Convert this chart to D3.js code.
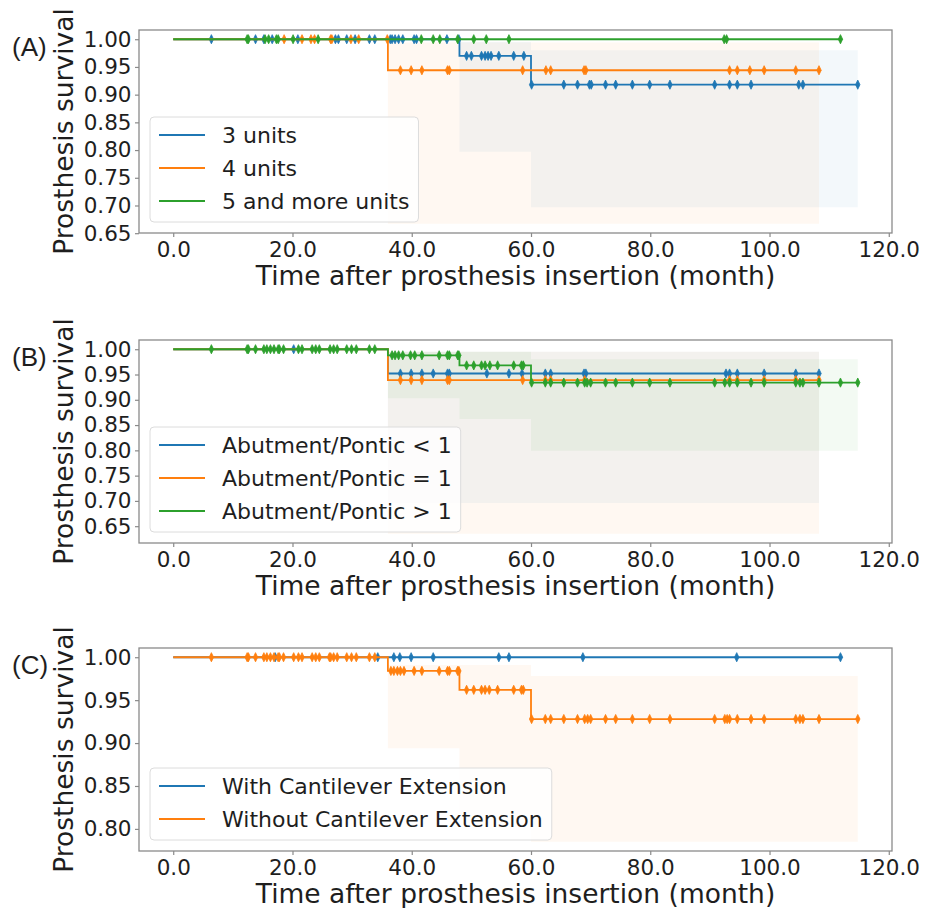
<!DOCTYPE html>
<html>
<head>
<meta charset="utf-8">
<script src="https://cdn.jsdelivr.net/npm/d3@7"></script>
<style>
	body { margin: 0; background: #fff; }
	text { font-family: "DejaVu Sans", sans-serif; fill: #1e1e1e; }
</style>
</head>
<body>
<svg id="chart" width="934" height="908"></svg>
<script>

// ---------------------------------------------------------------------------
// Data (time in months, survival as fraction)
// ---------------------------------------------------------------------------

var xTickValues = [0, 20, 40, 60, 80, 100, 120];
var yTicksA = [0.65, 0.70, 0.75, 0.80, 0.85, 0.90, 0.95, 1.00];
var yTicksB = [0.65, 0.70, 0.75, 0.80, 0.85, 0.90, 0.95, 1.00];
var yTicksC = [0.80, 0.85, 0.90, 0.95, 1.00];

var panelLabels = ["(A)", "(B)", "(C)"];
var namesA = ["3 units", "4 units", "5 and more units"];
var namesB = ["Abutment/Pontic < 1", "Abutment/Pontic = 1", "Abutment/Pontic > 1"];
var namesC = ["With Cantilever Extension", "Without Cantilever Extension"];

// (A) 3 units
var stepTimesA1 = [0, 48, 60];
var stepSurvA1 = [1.00, 0.970, 0.918];
var endA1 = 114.8;
var censorA1 = [6.4, 13.8, 15.2, 16.6, 20.9, 27.2, 27.7, 29.1, 30.5, 32.9, 33.8, 36.4, 36.7,
	37.2, 37.8, 38.5, 40.4, 40.8, 45.9, 47.9, 49.2, 50.0, 51.7, 52.3, 52.8, 53.3, 54.6, 57.1,
	58.8, 60.1, 65.5, 67.8, 69.8, 70.1, 72.5, 74.2, 77.0, 79.9, 83.3, 90.8, 93.3, 94.6, 96.9,
	104.9, 105.6, 114.8];
var bandTimesA1 = [48, 60, 114.8];
var bandLoA1 = [0.797, 0.697, 0.697];
var bandHiA1 = [0.995, 0.980, 0.980];

// (A) 4 units
var stepTimesA2 = [0, 36];
var stepSurvA2 = [1.00, 0.944];
var endA2 = 108.3;
var censorA2 = [18.6, 21.6, 23.1, 23.7, 26.4, 26.6, 29.8, 31.1, 35.9, 38.1, 39.9, 41.7, 46.0,
	46.3, 58.6, 62.5, 63.3, 68.9, 69.2, 93.3, 94.6, 96.7, 99.1, 104.4, 108.3];
var bandTimesA2 = [36, 108.3];
var bandLoA2 = [0.667, 0.667];
var bandHiA2 = [0.994, 0.994];

// (A) 5 and more units
var stepTimesA3 = [0];
var stepSurvA3 = [1.00];
var endA3 = 111.9;
var censorA3 = [12.4, 12.6, 15.4, 16.0, 17.3, 17.6, 20.1, 24.3, 41.6, 43.6, 44.7, 47.7, 50.4,
	52.5, 56.3, 92.4, 92.8, 111.9];
var bandTimesA3 = [];
var bandLoA3 = [];
var bandHiA3 = [];

// (B) Abutment/Pontic < 1
var stepTimesB1 = [0, 36];
var stepSurvB1 = [1.00, 0.952];
var endB1 = 108.3;
var censorB1 = [20.2, 38.1, 39.9, 41.7, 43.6, 46.0, 46.3, 52.6, 56.3, 58.5, 62.4, 63.3, 68.9,
	69.2, 92.7, 93.3, 94.6, 99.1, 104.4, 108.3];
var bandTimesB1 = [36, 108.3];
var bandLoB1 = [0.696, 0.696];
var bandHiB1 = [0.995, 0.995];

// (B) Abutment/Pontic = 1
var stepTimesB2 = [0, 36];
var stepSurvB2 = [1.00, 0.939];
var endB2 = 108.3;
var censorB2 = [38.1, 39.9, 41.7, 46.0, 46.3, 58.6, 62.4, 63.3, 69.0, 93.3, 94.6, 99.1, 104.4, 108.3];
var bandTimesB2 = [36, 108.3];
var bandLoB2 = [0.635, 0.635];
var bandHiB2 = [0.995, 0.995];

// (B) Abutment/Pontic > 1
var stepTimesB3 = [0, 36, 48, 60];
var stepSurvB3 = [1.00, 0.988, 0.968, 0.934];
var endB3 = 114.8;
var censorB3 = [6.4, 12.4, 12.6, 13.8, 15.2, 15.7, 16.3, 16.9, 17.6, 17.8, 18.5, 21.0, 21.6,
	23.3, 23.9, 24.5, 26.3, 26.9, 27.5, 29.1, 29.9, 30.7, 32.9, 33.8, 36.7, 37.2, 37.8, 38.5,
	39.8, 40.5, 41.7, 44.6, 46.0, 46.3, 47.7, 47.9, 49.2, 50.4, 51.7, 52.3, 53.1, 54.4, 57.1,
	58.4, 58.7, 60.1, 62.4, 63.3, 65.5, 67.8, 69.0, 69.4, 70.0, 72.5, 74.2, 77.0, 79.9, 83.3,
	90.8, 92.5, 93.3, 94.6, 96.9, 99.1, 104.4, 105.1, 105.6, 108.3, 111.9, 114.8];
var bandTimesB3 = [36, 48, 60, 114.8];
var bandLoB3 = [0.903, 0.862, 0.799, 0.799];
var bandHiB3 = [0.995, 0.995, 0.980, 0.980];

// (C) With Cantilever Extension
var stepTimesC1 = [0];
var stepSurvC1 = [1.00];
var endC1 = 111.9;
var censorC1 = [17.1, 34.3, 37.0, 38.0, 39.9, 43.6, 54.6, 56.3, 68.7, 94.5, 111.9];
var bandTimesC1 = [];
var bandLoC1 = [];
var bandHiC1 = [];

// (C) Without Cantilever Extension
var stepTimesC2 = [0, 36, 48, 60];
var stepSurvC2 = [1.00, 0.984, 0.962, 0.928];
var endC2 = 114.8;
var censorC2 = [6.4, 12.4, 12.6, 13.8, 15.2, 15.7, 16.3, 16.9, 17.6, 17.8, 18.5, 20.2, 21.0,
	21.6, 23.3, 23.9, 24.5, 26.2, 26.4, 26.9, 27.5, 29.1, 29.9, 30.7, 32.9, 33.8, 36.5, 37.0,
	37.6, 38.1, 38.7, 40.4, 41.7, 44.6, 46.0, 46.3, 47.7, 47.9, 49.2, 50.4, 51.7, 52.3, 53.0,
	54.4, 57.1, 58.4, 58.7, 60.1, 62.4, 63.3, 65.5, 67.8, 69.0, 69.5, 70.0, 72.5, 74.2, 77.0,
	79.9, 83.3, 90.8, 92.5, 92.9, 93.3, 94.6, 96.9, 99.1, 104.4, 105.1, 105.6, 108.3, 114.8];
var bandTimesC2 = [36, 48, 60, 114.8];
var bandLoC2 = [0.894, 0.81, 0.785, 0.785];
var bandHiC2 = [0.991, 0.991, 0.978, 0.978];

// matplotlib tab10
var colors = ["#1f77b4", "#ff7f0e", "#2ca02c"];

// ---------------------------------------------------------------------------
// Build the panels from the arrays above
// ---------------------------------------------------------------------------
function makeSeries(name, color, stepTimes, stepSurv, end, censor, bandTimes, bandLo, bandHi)
{
	return {name: name, color: color, stepTimes: stepTimes, stepSurv: stepSurv, end: end,
		censor: censor, bandTimes: bandTimes, bandLo: bandLo, bandHi: bandHi};
}

var panels = [
	{
		label: panelLabels[0], top: 30, yTicks: yTicksA,
		series: [
			makeSeries(namesA[0], colors[0], stepTimesA1, stepSurvA1, endA1, censorA1, bandTimesA1, bandLoA1, bandHiA1),
			makeSeries(namesA[1], colors[1], stepTimesA2, stepSurvA2, endA2, censorA2, bandTimesA2, bandLoA2, bandHiA2),
			makeSeries(namesA[2], colors[2], stepTimesA3, stepSurvA3, endA3, censorA3, bandTimesA3, bandLoA3, bandHiA3)
		]
	},
	{
		label: panelLabels[1], top: 340, yTicks: yTicksB,
		series: [
			makeSeries(namesB[0], colors[0], stepTimesB1, stepSurvB1, endB1, censorB1, bandTimesB1, bandLoB1, bandHiB1),
			makeSeries(namesB[1], colors[1], stepTimesB2, stepSurvB2, endB2, censorB2, bandTimesB2, bandLoB2, bandHiB2),
			makeSeries(namesB[2], colors[2], stepTimesB3, stepSurvB3, endB3, censorB3, bandTimesB3, bandLoB3, bandHiB3)
		]
	},
	{
		label: panelLabels[2], top: 648, yTicks: yTicksC,
		series: [
			makeSeries(namesC[0], colors[0], stepTimesC1, stepSurvC1, endC1, censorC1, bandTimesC1, bandLoC1, bandHiC1),
			makeSeries(namesC[1], colors[1], stepTimesC2, stepSurvC2, endC2, censorC2, bandTimesC2, bandLoC2, bandHiC2)
		]
	}
];

var plotLeft = 139, plotRight = 892, plotHeight = 203;
var spineColor = "#8a8a8a";
var tickFont = 21.5, labelFont = 26.5, legendFont = 22;

var svg = d3.select("#chart");

/* **************************************************************************
 * survivalAt
 * Value of the step function (post) at time t.
 ****************************************************************************/
function survivalAt(s, t)
{
	var i = d3.bisectRight(s.stepTimes, t) - 1;
	return s.stepSurv[Math.max(i, 0)];
}

/* **************************************************************************
 * drawPanel
 ****************************************************************************/
function drawPanel(p)
{
	var bottom = p.top + plotHeight;

	// x domain: data range with 5% margins (matplotlib default)
	var tMax = d3.max(p.series, function (s) { return s.end; });
	var xPad = tMax * 0.05;
	var x = d3.scaleLinear().domain([-xPad, tMax + xPad]).range([plotLeft, plotRight]);

	var yMin = d3.min(p.series, function (s) { return d3.min(s.bandLo.concat([d3.min(s.stepSurv)])); });
	var yPad = (1 - yMin) * 0.05;
	var y = d3.scaleLinear().domain([yMin - yPad, 1 + yPad]).range([bottom, p.top]);

	var g = svg.append("g");

	// confidence bands
	var area = d3.area()
		.curve(d3.curveStepAfter)
		.x(function (d) { return x(d[0]); })
		.y0(function (d) { return y(d[1]); })
		.y1(function (d) { return y(d[2]); });

	p.series.forEach(function (s)
	{
		if (!s.bandTimes.length) return;
		var pts = s.bandTimes.map(function (t, i) { return [t, s.bandLo[i], s.bandHi[i]]; });
		g.append("path")
			.attr("d", area(pts))
			.attr("fill", s.color)
			.attr("fill-opacity", 0.055);
	});

	// survival step lines + censor marks
	var line = d3.line()
		.curve(d3.curveStepAfter)
		.x(function (d) { return x(d[0]); })
		.y(function (d) { return y(d[1]); });

	var diamond = "M0,-4.6L2.2,0L0,4.6L-2.2,0Z";

	p.series.forEach(function (s)
	{
		var pts = s.stepTimes.map(function (t, i) { return [t, s.stepSurv[i]]; });
		pts.push([s.end, s.stepSurv[s.stepSurv.length - 1]]);
		g.append("path")
			.attr("d", line(pts))
			.attr("fill", "none")
			.attr("stroke", s.color)
			.attr("stroke-width", 1.8);

		g.selectAll(null)
			.data(s.censor)
			.enter().append("path")
			.attr("d", diamond)
			.attr("transform", function (t) { return "translate(" + x(t) + "," + y(survivalAt(s, t)) + ")"; })
			.attr("fill", s.color)
			.attr("stroke", s.color)
			.attr("stroke-width", 0.8);
	});

	// frame
	g.append("rect")
		.attr("x", plotLeft).attr("y", p.top)
		.attr("width", plotRight - plotLeft).attr("height", plotHeight)
		.attr("fill", "none")
		.attr("stroke", spineColor)
		.attr("stroke-width", 1.3);

	// axes
	var xAxis = d3.axisBottom(x).tickValues(xTickValues).tickFormat(d3.format(".1f"))
		.tickSize(4).tickPadding(4);
	var gx = g.append("g").attr("transform", "translate(0," + bottom + ")").call(xAxis);

	var yAxis = d3.axisLeft(y).tickValues(p.yTicks).tickFormat(d3.format(".2f"))
		.tickSize(4).tickPadding(3.5);
	var gy = g.append("g").attr("transform", "translate(" + plotLeft + ",0)").call(yAxis);

	[gx, gy].forEach(function (ax)
	{
		ax.select(".domain").remove();
		ax.selectAll(".tick line").attr("stroke", spineColor).attr("stroke-width", 1.2);
		ax.selectAll(".tick text")
			.attr("font-family", "DejaVu Sans")
			.attr("font-size", tickFont)
			.attr("fill", "#1e1e1e");
	});
	gx.selectAll(".tick text").attr("dy", "0.74em");

	// axis titles
	g.append("text")
		.attr("x", (plotLeft + plotRight) / 2)
		.attr("y", bottom + 52)
		.attr("text-anchor", "middle")
		.attr("font-size", labelFont)
		.text("Time after prosthesis insertion (month)");

	g.append("text")
		.attr("transform", "translate(73," + (p.top + plotHeight / 2) + ") rotate(-90)")
		.attr("text-anchor", "middle")
		.attr("font-size", labelFont)
		.text("Prosthesis survival");

	// panel label
	g.append("text")
		.attr("x", 12)
		.attr("y", p.top + 26)
		.attr("font-family", "Liberation Sans, Arial, sans-serif")
		.style("font-family", "'Liberation Sans', Arial, sans-serif")
		.attr("font-size", 26)
		.text(p.label);

	// legend (lower left)
	var rowH = 33;
	var n = p.series.length;
	var boxH = n * rowH + 6;
	var boxX = plotLeft + 11;
	var boxY = bottom - 11 - boxH;
	var lg = g.append("g");
	var box = lg.append("rect")
		.attr("x", boxX).attr("y", boxY)
		.attr("height", boxH)
		.attr("rx", 4)
		.attr("fill", "#fff")
		.attr("fill-opacity", 0.8)
		.attr("stroke", "#dcdcdc")
		.attr("stroke-width", 1);

	var maxW = 0;
	p.series.forEach(function (s, i)
	{
		var cy = boxY + 18 + i * rowH;
		lg.append("line")
			.attr("x1", boxX + 9).attr("x2", boxX + 55)
			.attr("y1", cy).attr("y2", cy)
			.attr("stroke", s.color)
			.attr("stroke-width", 1.8);
		var t = lg.append("text")
			.attr("x", boxX + 72)
			.attr("y", cy + 8)
			.attr("font-size", legendFont)
			.text(s.name);
		maxW = Math.max(maxW, t.node().getComputedTextLength());
	});
	box.attr("width", 72 + maxW + 9);
}

panels.forEach(drawPanel);

</script>
</body>
</html>
